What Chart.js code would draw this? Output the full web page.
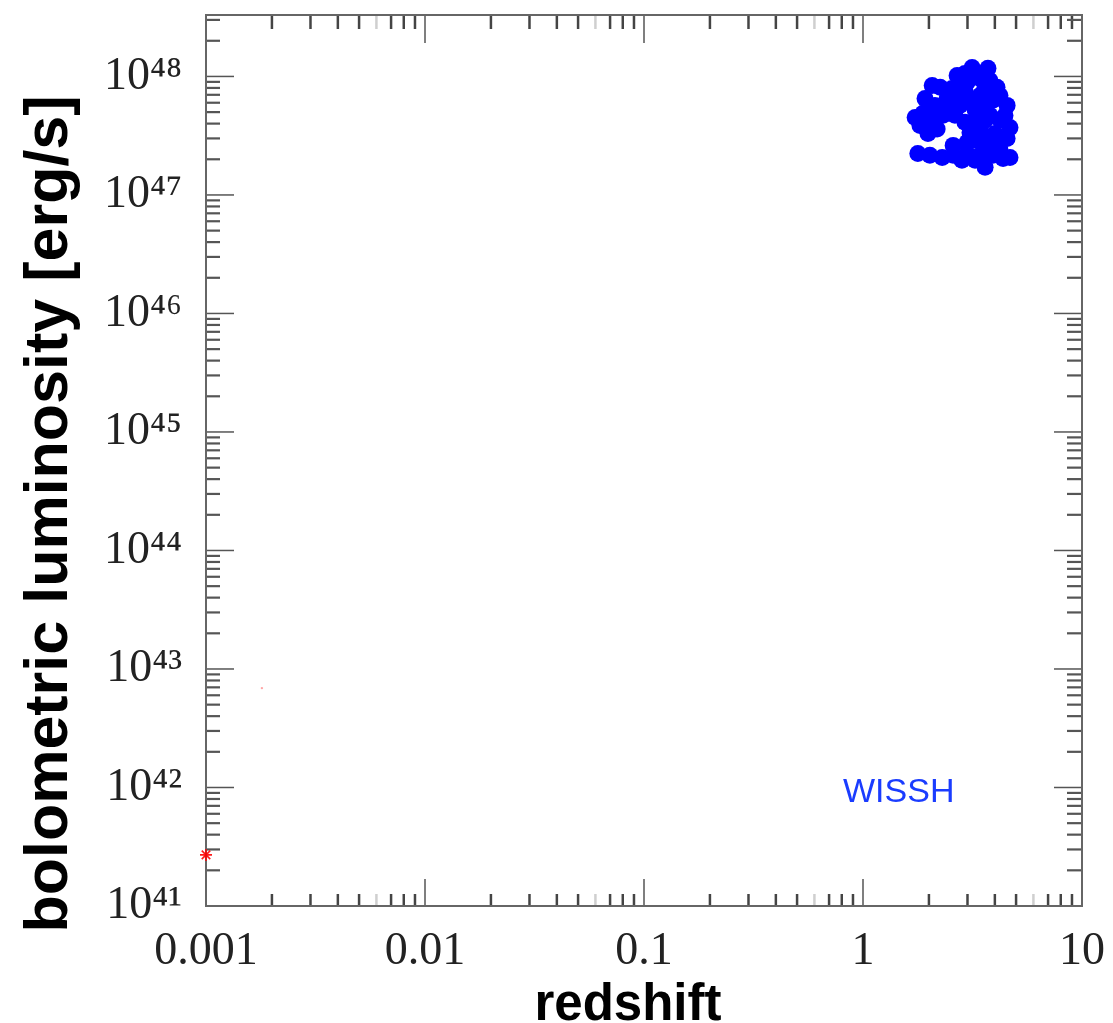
<!DOCTYPE html>
<html><head><meta charset="utf-8">
<script src="https://cdn.jsdelivr.net/npm/chart.js@4"></script>
<style>html,body{margin:0;padding:0;background:#fff;}</style>
</head><body>
<canvas id="c" width="1113" height="1023"></canvas>
<script>
// ---- data ----
const xTickValues = [0.001, 0.01, 0.1, 1, 10];
const xTickLabels = ['0.001', '0.01', '0.1', '1', '10'];
const yTickValues = [1e41, 1e42, 1e43, 1e44, 1e45, 1e46, 1e47, 1e48];
const yTickLabels = ['10⁴¹', '10⁴²', '10⁴³', '10⁴⁴', '10⁴⁵', '10⁴⁶', '10⁴⁷', '10⁴⁸'];
const xRange = [0.001, 10];
const yRange = [1e41, 3.3e48];

const wisshRedshift = [3.15, 3.72, 2.69, 2.92, 3.42, 4.09, 2.07, 2.25, 1.92, 2.42,
  1.73, 1.88, 1.98, 2.18, 2.32, 4.55, 4.69, 4.55, 1.78, 2.02,
  2.30, 2.58, 2.99, 3.42, 3.92, 4.69, 3.61, 2.58, 2.99, 2.92,
  3.42, 3.92, 2.77, 3.25, 3.80, 4.22, 2.92, 3.42, 4.01, 3.25,
  3.80, 4.22, 2.63, 3.08, 3.61, 2.55, 3.00, 3.60, 3.30, 3.70,
  2.77, 3.25, 3.80, 4.22, 4.45, 4.22, 3.61, 3.08, 3.61, 2.77,
  2.50, 2.13, 1.82, 2.07, 3.25, 2.83, 4.36];
const wisshLbol = [1.19e48, 1.17e48, 1.02e48, 1.06e48, 9.6e47, 8.1e47, 8.4e47, 8.1e47, 6.5e47, 6.5e47,
  4.5e47, 4.9e47, 3.3e47, 3.6e47, 4.7e47, 5.7e47, 3.7e47, 3.0e47, 2.24e47, 2.16e47,
  2.07e47, 2.16e47, 2.24e47, 2.16e47, 2.16e47, 2.07e47, 1.71e47, 2.62e47, 2.78e47, 7.6e47,
  6.9e47, 6.3e47, 5.7e47, 5.2e47, 4.7e47, 4.3e47, 4.1e47, 3.6e47, 3.3e47, 2.9e47,
  2.6e47, 2.4e47, 4.7e47, 6.3e47, 8.1e47, 7.9e47, 9.0e47, 5.5e47, 4.2e47, 3.1e47,
  9.25e47, 1.02e48, 9.25e47, 6.9e47, 4.69e47, 2.89e47, 2.38e47, 3.37e47, 4.26e47, 6.92e47,
  5.37e47, 5.69e47, 3.86e47, 4.42e47, 1.96e47, 1.96e47, 2.03e47];

const redRedshift = [0.001, 0.0018];
const redLbol = [2.7e41, 6.9e42];

const xTitle = 'redshift';
const yTitle = 'bolometric luminosity [erg/s]';
const labelText = 'WISSH';
const labelRedshift = 1.456;
const labelLbol = 8.97e41;

// ---- chart ----
const toPts = (xs, ys) => xs.map((v, i) => ({x: v, y: ys[i]}));

const frameTicks = {
  id: 'frameTicks',
  beforeDatasetsDraw(chart) {
    const {ctx, chartArea: {left, right, top, bottom}, scales: {x, y}} = chart;
    ctx.save();
    const seg = (x1, y1, x2, y2) => { ctx.beginPath(); ctx.moveTo(x1, y1); ctx.lineTo(x2, y2); ctx.stroke(); };
    const minorOf = (majors, lo, hi) => {
      const out = [];
      majors.concat([majors[majors.length - 1] * 10]).forEach(m => {
        for (let k = 2; k <= 9; k++) { const v = m * k; if (v > lo && v < hi) out.push({v, k}); }
      });
      return out;
    };
    ctx.lineCap = 'butt';
    minorOf(xTickValues, xRange[0], xRange[1]).forEach(({v, k}) => {
      const p = x.getPixelForValue(v);
      ctx.strokeStyle = k === 6 ? '#cfcfcf' : '#444';
      ctx.lineWidth = 2.5;
      seg(p, bottom, p, bottom - 12);
      seg(p, top, p, top + 14);
    });
    minorOf(yTickValues, yRange[0], yRange[1]).forEach(({v}) => {
      const p = y.getPixelForValue(v);
      ctx.strokeStyle = '#555';
      ctx.lineWidth = 2.2;
      seg(left, p, left + 14, p);
      seg(right, p, right - 15, p);
    });
    ctx.strokeStyle = '#555';
    ctx.lineWidth = 1.5;
    xTickValues.forEach(v => {
      const p = x.getPixelForValue(v);
      seg(p, bottom, p, bottom - 27);
      seg(p, top, p, top + 28);
    });
    yTickValues.forEach(v => {
      const p = y.getPixelForValue(v);
      seg(left, p, left + 28, p);
      seg(right, p, right - 28, p);
    });
    ctx.strokeStyle = '#666';
    ctx.lineWidth = 2;
    ctx.strokeRect(left, top, right - left, bottom - top);
    ctx.restore();
  },
  afterDraw(chart) {
    const {ctx, scales: {x, y}} = chart;
    ctx.save();
    ctx.fillStyle = '#000';
    ctx.textAlign = 'center';
    ctx.textBaseline = 'alphabetic';
    ctx.font = 'bold 51px "Liberation Sans", Arial, sans-serif';
    ctx.fillText(xTitle, 628, 1020);
    ctx.translate(67, 514);
    ctx.rotate(-Math.PI / 2);
    ctx.font = 'bold 61px "Liberation Sans", Arial, sans-serif';
    ctx.fillText(yTitle, 0, 0);
    ctx.restore();
    ctx.save();
    ctx.fillStyle = '#1a3cff';
    ctx.font = '34px "Liberation Sans", Arial, sans-serif';
    ctx.textAlign = 'center';
    ctx.textBaseline = 'middle';
    ctx.fillText(labelText, x.getPixelForValue(labelRedshift), y.getPixelForValue(labelLbol));
    ctx.restore();
  }
};

const tickFont = {family: '"Liberation Serif", "Times New Roman", serif', size: 46};
const zeroPad = s => { s.paddingTop = 0; s.paddingBottom = 0; s.paddingLeft = 0; s.paddingRight = 0; };

new Chart(document.getElementById('c'), {
  type: 'scatter',
  data: {
    datasets: [
      {
        label: 'WISSH',
        data: toPts(wisshRedshift, wisshLbol),
        backgroundColor: '#0000ff',
        borderColor: '#0000ff',
        borderWidth: 0,
        pointRadius: 8.5,
        pointHoverRadius: 8.5
      },
      {
        label: 'local',
        data: toPts(redRedshift, redLbol),
        borderColor: ['rgba(255,0,0,0.9)', 'rgba(255,0,0,0.35)'],
        backgroundColor: ['rgba(255,0,0,0.9)', 'rgba(255,0,0,0.35)'],
        pointStyle: ['star', 'circle'],
        pointRadius: [6, 1.2],
        borderWidth: [1.6, 0],
        clip: false
      }
    ]
  },
  options: {
    responsive: false,
    animation: false,
    devicePixelRatio: 1,
    events: [],
    layout: {padding: {top: 15, right: 31, left: 0, bottom: 0}},
    plugins: {legend: {display: false}, tooltip: {enabled: false}, title: {display: false}},
    scales: {
      x: {
        type: 'logarithmic',
        position: 'bottom',
        min: xRange[0], max: xRange[1],
        grid: {display: false, drawTicks: false},
        border: {display: false},
        afterBuildTicks: s => { s.ticks = xTickValues.map(v => ({value: v, major: true})); },
        afterFit: s => { s.height = 117; zeroPad(s); },
        ticks: {
          autoSkip: false, maxRotation: 0, minRotation: 0,
          padding: 18, color: '#222', font: tickFont,
          callback: (v, i) => xTickLabels[i]
        }
      },
      y: {
        type: 'logarithmic',
        position: 'left',
        min: yRange[0], max: yRange[1],
        grid: {display: false, drawTicks: false},
        border: {display: false},
        afterBuildTicks: s => { s.ticks = yTickValues.map(v => ({value: v, major: true})); },
        afterFit: s => { s.width = 206; zeroPad(s); },
        ticks: {
          autoSkip: false,
          padding: 24, color: '#222', font: tickFont,
          callback: (v, i) => yTickLabels[i]
        }
      }
    }
  },
  plugins: [frameTicks]
});
</script>
</body></html>
